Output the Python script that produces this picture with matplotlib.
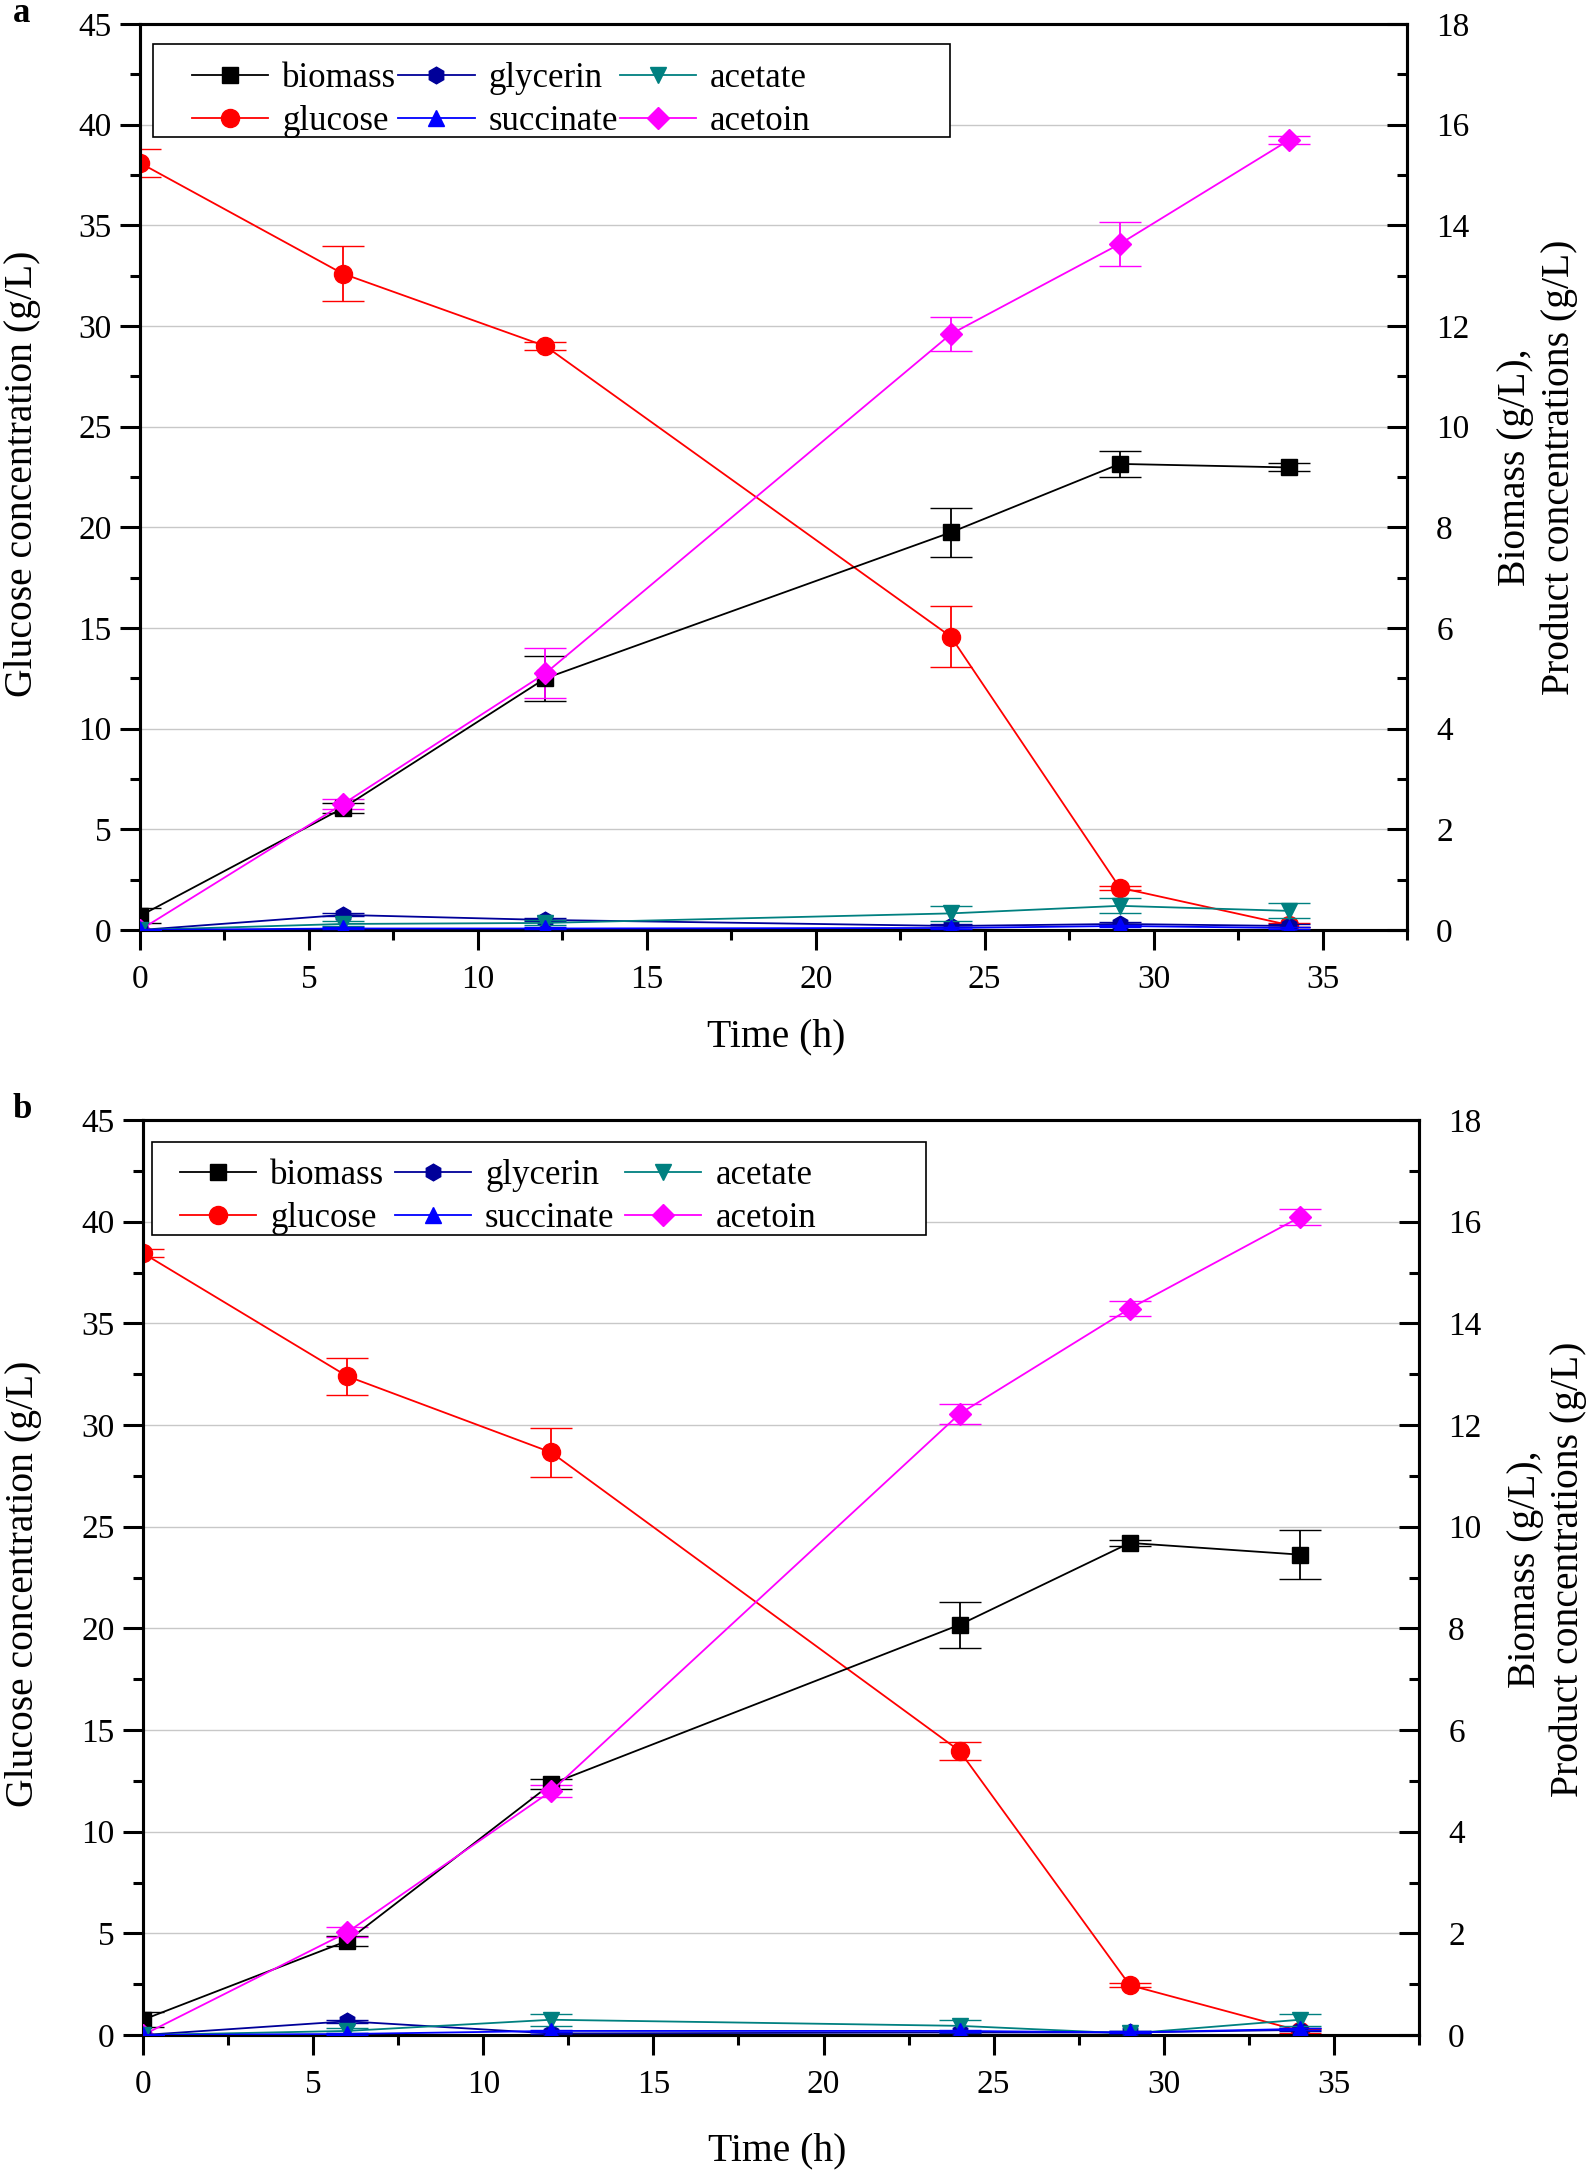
import matplotlib
matplotlib.use("Agg")
import matplotlib.pyplot as plt
from matplotlib.ticker import MultipleLocator
from matplotlib.patches import Rectangle

plt.rcParams['font.family'] = ['Liberation Serif', 'DejaVu Serif']

# ---------------- data ----------------
time = [0, 6, 12, 24, 29, 34]
series_names = ["biomass", "glucose", "glycerin", "succinate", "acetate", "acetoin"]

# panel a
glucose_a = [38.1, 32.6, 29.0, 14.57, 2.1, 0.25]
glucose_a_err = [0.7, 1.35, 0.2, 1.5, 0.1, 0.1]
biomass_a = [0.28, 2.42, 5.0, 7.9, 9.26, 9.19]
biomass_a_err = [0.15, 0.1, 0.45, 0.48, 0.26, 0.08]
acetoin_a = [0.0, 2.5, 5.1, 11.84, 13.63, 15.69]
acetoin_a_err = [0.0, 0.1, 0.5, 0.33, 0.44, 0.08]
glycerin_a = [0.0, 0.3, 0.2, 0.08, 0.12, 0.08]
glycerin_a_err = [0.0, 0.03, 0.03, 0.03, 0.03, 0.03]
succinate_a = [0.0, 0.03, 0.03, 0.04, 0.08, 0.04]
succinate_a_err = [0.0, 0.02, 0.02, 0.02, 0.02, 0.02]
acetate_a = [0.0, 0.12, 0.14, 0.33, 0.48, 0.38]
acetate_a_err = [0.0, 0.05, 0.05, 0.15, 0.15, 0.15]

# panel b
glucose_b = [38.45, 32.4, 28.65, 13.97, 2.45, 0.2]
glucose_b_err = [0.2, 0.9, 1.2, 0.45, 0.1, 0.1]
biomass_b = [0.3, 1.85, 4.94, 8.07, 9.68, 9.45]
biomass_b_err = [0.15, 0.1, 0.1, 0.45, 0.06, 0.48]
acetoin_b = [0.0, 2.02, 4.8, 12.22, 14.29, 16.09]
acetoin_b_err = [0.0, 0.1, 0.12, 0.2, 0.15, 0.15]
glycerin_b = [0.0, 0.27, 0.03, 0.05, 0.05, 0.1]
glycerin_b_err = [0.0, 0.03, 0.02, 0.02, 0.02, 0.03]
succinate_b = [0.0, 0.02, 0.08, 0.08, 0.05, 0.12]
succinate_b_err = [0.0, 0.02, 0.02, 0.02, 0.02, 0.02]
acetate_b = [0.0, 0.08, 0.3, 0.18, 0.03, 0.3]
acetate_b_err = [0.0, 0.05, 0.12, 0.12, 0.05, 0.12]

x_ticks = [0, 5, 10, 15, 20, 25, 30, 35]
left_ticks = [0, 5, 10, 15, 20, 25, 30, 35, 40, 45]
right_ticks = [0, 2, 4, 6, 8, 10, 12, 14, 16, 18]

styles = {
    "biomass":   dict(color="#000000", marker="s", ms=11.5),
    "glucose":   dict(color="#ff0000", marker="o", ms=13),
    "glycerin":  dict(color="#000099", marker="h", ms=12),
    "succinate": dict(color="#0000ff", marker="^", ms=12),
    "acetate":   dict(color="#008080", marker="v", ms=12),
    "acetoin":   dict(color="#ff00ff", marker="D", ms=11),
}

W, H = 1595, 2173
fig = plt.figure(figsize=(W / 100, H / 100), dpi=100)

TICK_FS = 24
LABEL_FS = 28.5
LEG_FS = 25


def draw_panel(rect, data, letter, letter_xy, lab_coords, leg_px, colsp):
    ax = fig.add_axes(rect)
    ax2 = ax.twinx()
    handles = {}

    def plot(axis, name, y, err, z):
        st = styles[name]
        cont = axis.errorbar(time, y, yerr=err, color=st["color"], marker=st["marker"],
                             ms=st["ms"], mec=st["color"], mfc=st["color"], mew=1,
                             lw=1.3, elinewidth=1.3, capsize=15, capthick=1.3,
                             zorder=z)
        handles[name] = cont.lines[0]

    plot(ax, "glucose", data["glucose"][0], data["glucose"][1], 3)
    plot(ax2, "biomass", data["biomass"][0], data["biomass"][1], 3)
    plot(ax2, "acetoin", data["acetoin"][0], data["acetoin"][1], 3)
    plot(ax2, "glycerin", data["glycerin"][0], data["glycerin"][1], 4)
    plot(ax2, "acetate", data["acetate"][0], data["acetate"][1], 5)
    plot(ax2, "succinate", data["succinate"][0], data["succinate"][1], 6)

    ax.set_xlim(0, 37.5)
    ax.set_ylim(0, 45)
    ax2.set_ylim(0, 18)
    ax.set_xticks(x_ticks)
    ax.set_yticks(left_ticks)
    ax2.set_yticks(right_ticks)
    ax.xaxis.set_minor_locator(MultipleLocator(2.5))
    ax.yaxis.set_minor_locator(MultipleLocator(2.5))
    ax2.yaxis.set_minor_locator(MultipleLocator(1))

    ax.yaxis.grid(True, which="major", color="#c8c8c8", lw=1.0)
    ax.set_axisbelow(True)

    for a in (ax, ax2):
        for s in a.spines.values():
            s.set_linewidth(2.2)
    ax.tick_params(axis="x", which="both", direction="out", top=False, bottom=True,
                   labelsize=TICK_FS, width=2.2, pad=10)
    ax.tick_params(axis="x", which="major", length=14.5)
    ax.tick_params(axis="x", which="minor", length=7.5)
    ax.tick_params(axis="y", which="both", direction="out", left=True, right=False,
                   labelsize=TICK_FS, width=2.2, pad=6)
    ax.tick_params(axis="y", which="major", length=14.5)
    ax.tick_params(axis="y", which="minor", length=7.5)
    ax2.tick_params(axis="y", which="both", direction="in", right=True, left=False,
                    labelsize=TICK_FS, width=2.2, pad=21)
    ax2.tick_params(axis="y", which="major", length=14.5)
    ax2.tick_params(axis="y", which="minor", length=7.5)

    ax.set_xlabel("Time (h)", fontsize=LABEL_FS)
    ax.xaxis.set_label_coords(*lab_coords["x"])
    ax.xaxis.label.set_va("center")
    ax.set_ylabel("Glucose concentration (g/L)", fontsize=LABEL_FS)
    ax.yaxis.set_label_coords(*lab_coords["yl"])
    ax.yaxis.label.set_va("center")
    ax2.set_ylabel("Biomass (g/L),\nProduct concentrations (g/L)", fontsize=LABEL_FS,
                   linespacing=1.2, rotation=90)
    ax2.yaxis.set_label_coords(*lab_coords["yr"])
    ax2.yaxis.label.set_va("center")
    ax2.yaxis.label.set_ha("center")

    # legend: frame box drawn separately (Origin style with wide padding)
    x0, y0, x1, y1, hx, cy = leg_px
    fx0 = (x0 - rect[0] * W) / (rect[2] * W)
    fx1 = (x1 - rect[0] * W) / (rect[2] * W)
    top_px = (1 - rect[1] - rect[3]) * H
    fy_top = 1 - (y0 - top_px) / (rect[3] * H)
    fy_bot = 1 - (y1 - top_px) / (rect[3] * H)
    frame = Rectangle((fx0, fy_bot), fx1 - fx0, fy_top - fy_bot, transform=ax2.transAxes,
                      facecolor="white", edgecolor="black", lw=1.2, zorder=9,
                      clip_on=False)
    ax2.add_patch(frame)
    hxa = (hx - rect[0] * W) / (rect[2] * W)
    cya = 1 - (cy - top_px) / (rect[3] * H)

    order = ["biomass", "glucose", "glycerin", "succinate", "acetate", "acetoin"]
    leg = ax2.legend([handles[n] for n in order], order, ncol=3, loc="center left",
                     bbox_to_anchor=(hxa, cya), borderaxespad=0, borderpad=0,
                     fontsize=LEG_FS, frameon=False, handlelength=2.2,
                     handletextpad=0.4, columnspacing=colsp, labelspacing=0.3)
    leg.set_zorder(10)

    fig.text(letter_xy[0] / W, 1 - letter_xy[1] / H, letter, fontsize=25,
             fontweight="bold", ha="center", va="center")
    return ax, ax2


data_a = {
    "glucose": (glucose_a, glucose_a_err), "biomass": (biomass_a, biomass_a_err),
    "acetoin": (acetoin_a, acetoin_a_err), "glycerin": (glycerin_a, glycerin_a_err),
    "succinate": (succinate_a, succinate_a_err), "acetate": (acetate_a, acetate_a_err),
}
data_b = {
    "glucose": (glucose_b, glucose_b_err), "biomass": (biomass_b, biomass_b_err),
    "acetoin": (acetoin_b, acetoin_b_err), "glycerin": (glycerin_b, glycerin_b_err),
    "succinate": (succinate_b, succinate_b_err), "acetate": (acetate_b, acetate_b_err),
}

rect_a = [140 / W, 1 - 930 / H, 1267 / W, 906 / H]
rect_b = [143 / W, 1 - 2035 / H, 1276 / W, 915 / H]

draw_panel(rect_a, data_a, "a", (22, 14),
           {"x": (0.502, -0.1175), "yl": (-0.093, 0.503), "yr": (1.103, 0.511)},
           (153, 44, 950, 137, 192, 100), 0.05)
draw_panel(rect_b, data_b, "b", (22, 1110),
           {"x": (0.497, -0.127), "yl": (-0.094, 0.493), "yr": (1.100, 0.509)},
           (152, 1142, 926, 1235, 180, 1197), 0.3)

fig.savefig("out.png", dpi=100)
